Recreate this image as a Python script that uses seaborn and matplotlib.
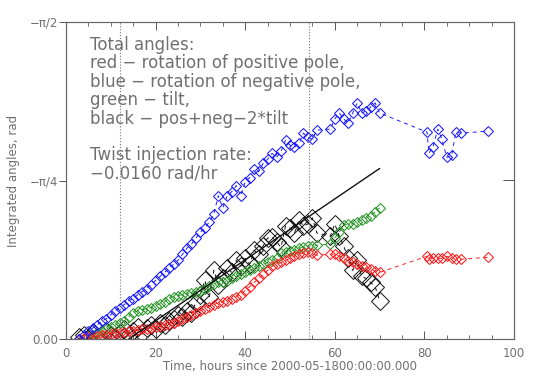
import numpy as np
import pandas as pd
import seaborn as sns
import matplotlib.pyplot as plt

# hours since 2000-05-18 00:00
t_main = [3, 4, 5, 6, 7, 8, 9, 10, 11, 12, 13, 14, 15, 16, 17, 18, 19, 20, 21, 22,
          23, 24, 25, 26, 27, 28, 29, 30, 31, 32, 33, 34, 35, 36, 37, 38, 39, 40, 41, 42,
          43, 44, 45, 46, 47, 48, 49, 50, 51, 52, 53, 54, 55, 56,
          59, 60, 61, 62, 63, 64, 65, 66, 67, 68, 69, 70]
t_late = [80.6, 81.0, 81.9, 83.0, 83.9, 85.0, 86.1, 87.0, 88.2, 94.2]

blue = [-0.00, -0.02, -0.04, -0.055, -0.07, -0.09, -0.10, -0.12, -0.14, -0.155,
        -0.17, -0.19, -0.20, -0.22, -0.235, -0.25, -0.27, -0.29, -0.31, -0.33,
        -0.35, -0.37, -0.39, -0.42, -0.45, -0.47, -0.50, -0.53, -0.55, -0.58,
        -0.62, -0.71, -0.65, -0.71, -0.73, -0.76, -0.71, -0.78, -0.80, -0.84,
        -0.83, -0.87, -0.89, -0.92, -0.90, -0.93, -0.985, -0.96, -0.95, -0.97,
        -1.02, -1.00, -0.99, -1.035,
        -1.04, -1.09, -1.12, -1.09, -1.07, -1.12, -1.17, -1.12, -1.13, -1.15, -1.17, -1.12,
        -1.025, -0.92, -0.95, -1.04, -0.99, -0.90, -0.91, -1.025, -1.02, -1.03]

red = [0.0, -0.005, -0.01, -0.01, -0.015, -0.02, -0.02, -0.025, -0.03, -0.03,
       -0.035, -0.04, -0.04, -0.045, -0.05, -0.05, -0.055, -0.06, -0.065, -0.07,
       -0.075, -0.08, -0.09, -0.10, -0.11, -0.12, -0.13, -0.14, -0.15, -0.16,
       -0.17, -0.18, -0.185, -0.19, -0.20, -0.21, -0.22, -0.24, -0.26, -0.28,
       -0.30, -0.32, -0.34, -0.36, -0.37, -0.38, -0.39, -0.40, -0.41, -0.42,
       -0.425, -0.43, -0.425, -0.415,
       -0.42, -0.42, -0.41, -0.40, -0.385, -0.38, -0.37, -0.36, -0.355, -0.345, -0.335, -0.33,
       -0.41, -0.395, -0.40, -0.40, -0.40, -0.41, -0.40, -0.395, -0.395, -0.405]

green = [0.0, -0.005, -0.01, -0.02, -0.03, -0.04, -0.05, -0.06, -0.07, -0.08,
         -0.09, -0.11, -0.13, -0.14, -0.145, -0.15, -0.155, -0.165, -0.175, -0.185,
         -0.20, -0.21, -0.215, -0.22, -0.225, -0.23, -0.235, -0.24, -0.25, -0.265,
         -0.275, -0.28, -0.28, -0.285, -0.30, -0.31, -0.32, -0.33, -0.34, -0.35,
         -0.36, -0.37, -0.38, -0.39, -0.40, -0.425, -0.43, -0.435, -0.44, -0.45,
         -0.455, -0.46, -0.46, -0.465,
         -0.47, -0.50, -0.53, -0.565, -0.57, -0.57, -0.58, -0.59, -0.60, -0.61, -0.63, -0.65]

black = [-0.01, -0.02, 0.0, -0.03, -0.01, -0.02, -0.04, -0.02, -0.01, -0.03,
         -0.05, -0.02, -0.04, -0.06, -0.03, -0.055, -0.07, -0.05, -0.08, -0.07,
         -0.09, -0.10, -0.12, -0.11, -0.14, -0.13, -0.18, -0.22, -0.29, -0.21,
         -0.34, -0.27, -0.30, -0.35, -0.33, -0.39, -0.36, -0.40, -0.37, -0.44,
         -0.42, -0.46, -0.50, -0.505, -0.48, -0.455, -0.56, -0.55, -0.525, -0.59,
         -0.56, -0.57, -0.60, -0.525,
         -0.51, -0.57, -0.51, -0.46, -0.40, -0.34, -0.39, -0.31, -0.30, -0.28, -0.26, -0.19]

# twist injection fit line
fit_t = [14, 70]
fit_v = [0.0, -0.845]

event_times = [12.0, 54.3]

ytick_vals = [0, -np.pi / 4, -np.pi / 2]
ytick_labels = ['0.00', '\u2212\u03c0/4', '\u2212\u03c0/2']

TXT = '#707070'

sns.set_style('ticks')
plt.rcParams['font.family'] = ['DejaVu Sans']

fig = plt.figure(figsize=(5.34, 3.82), dpi=100)
ax = fig.add_axes([66 / 534, 1 - 339 / 382, 448 / 534, 317 / 382])

t_all = t_main + t_late
df_blue = pd.DataFrame({'t': t_all, 'v': blue})
df_red = pd.DataFrame({'t': t_all, 'v': red})
df_green = pd.DataFrame({'t': t_main, 'v': green})
df_black = pd.DataFrame({'t': t_main, 'v': black})

dash = (0, (4, 4))
for d, c, ms, mew in [(df_black, '#111111', 9.5, 0.7), (df_green, '#2a952a', 5, 0.75),
                      (df_red, '#ff2020', 5, 0.75), (df_blue, '#1a1aff', 5, 0.75)]:
    sns.lineplot(data=d, x='t', y='v', ax=ax, sort=False, estimator=None,
                 color=c, linestyle=dash, linewidth=0.7, marker='D',
                 markersize=ms, markerfacecolor='none', markeredgecolor=c,
                 markeredgewidth=mew)

sns.lineplot(x=fit_t, y=fit_v, ax=ax, color='#111111', linewidth=1.0)

for xv in event_times:
    ax.axvline(xv, color='#777777', linestyle=':', linewidth=0.8)

ax.set_xlim(0, 100)
ax.set_ylim(0, -np.pi / 2)
ax.set_xticks([0, 20, 40, 60, 80, 100])
ax.set_xticks(np.arange(0, 101, 5), minor=True)
ax.set_yticks(ytick_vals)
ax.set_yticklabels(ytick_labels)
ax.tick_params(axis='x', which='both', direction='in', top=True, colors='#555555',
               labelcolor=TXT, labelsize=8.5, pad=6)
ax.tick_params(axis='x', which='major', length=6, width=0.7)
ax.tick_params(axis='x', which='minor', length=3, width=0.6)
ax.tick_params(axis='y', direction='out', length=5, width=0.7, colors='#555555',
               labelcolor=TXT, labelsize=8.5, pad=0.5)

ax2 = ax.twinx()
ax2.set_ylim(0, -np.pi / 2)
ax2.set_yticks(ytick_vals)
ax2.tick_params(axis='y', direction='in', length=8, width=0.7, colors='#555555',
                labelright=False)

for a in (ax, ax2):
    for s in a.spines.values():
        s.set_color('#666666')
        s.set_linewidth(0.8)

ax.set_xlabel('Time, hours since 2000-05-1800:00:00.000', color=TXT, fontsize=8.5, labelpad=0)
ax.set_ylabel('Integrated angles, rad', color=TXT, fontsize=8.5, labelpad=7)

ax.text(0.054, 0.956,
        'Total angles:\n'
        'red \u2212 rotation of positive pole,\n'
        'blue \u2212 rotation of negative pole,\n'
        'green \u2212 tilt,\n'
        'black \u2212 pos+neg\u22122*tilt',
        transform=ax.transAxes, ha='left', va='top', fontsize=12,
        color=TXT, linespacing=1.03)
ax.text(0.054, 0.61,
        'Twist injection rate:\n\u22120.0160 rad/hr',
        transform=ax.transAxes, ha='left', va='top', fontsize=12,
        color=TXT, linespacing=1.03)

fig.savefig('out.png', dpi=100)
